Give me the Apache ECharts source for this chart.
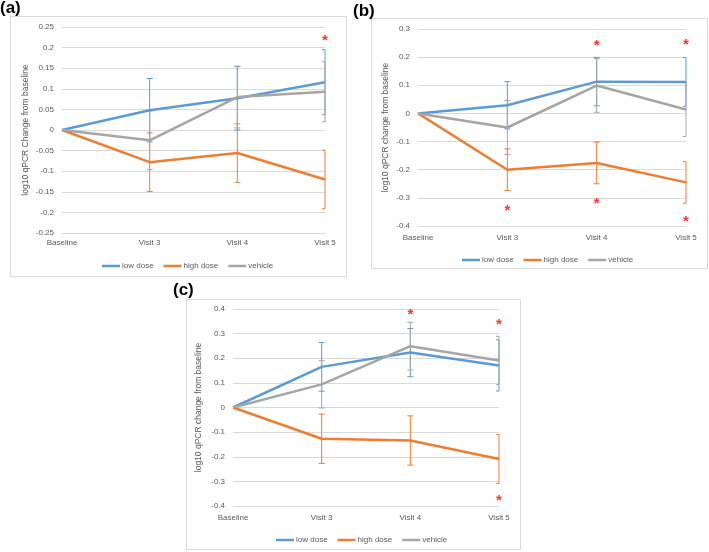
<!DOCTYPE html>
<html>
<head>
<meta charset="utf-8">
<script src="https://cdn.jsdelivr.net/npm/echarts@6/dist/echarts.min.js"></script>
<style>
  body { margin: 0; background: #fff; }
  #chart { width: 709px; height: 552px; }
</style>
</head>
<body>
<div id="chart"></div>
<script>
const categories = ['Baseline', 'Visit 3', 'Visit 4', 'Visit 5']
const seriesNames = ['low dose', 'high dose', 'vehicle']

// panel (a)
const ticksA = [-0.25, -0.2, -0.15, -0.1, -0.05, 0, 0.05, 0.1, 0.15, 0.2, 0.25]
const lowA = [0, 0.048, 0.077, 0.116]
const lowErrA = [0, 0.077, 0.077, 0.079]
const highA = [0, -0.078, -0.056, -0.12]
const highErrA = [0, 0.071, 0.071, 0.071]
const vehA = [0, -0.025, 0.08, 0.093]
const vehErrA = [0, 0.071, 0.075, 0.073]
const starsA = [['Visit 5', 0.225]]

// panel (b)
const ticksB = [-0.4, -0.3, -0.2, -0.1, 0, 0.1, 0.2, 0.3]
const lowB = [0, 0.029, 0.113, 0.112]
const lowErrB = [0, 0.084, 0.086, 0.087]
const highB = [0, -0.2, -0.176, -0.245]
const highErrB = [0, 0.074, 0.074, 0.074]
const vehB = [0, -0.05, 0.099, 0.014]
const vehErrB = [0, 0.096, 0.095, 0.096]
const starsB = [['Visit 3', -0.332], ['Visit 4', 0.255], ['Visit 4', -0.306], ['Visit 5', 0.258], ['Visit 5', -0.37]]

// panel (c)
const ticksC = [-0.4, -0.3, -0.2, -0.1, 0, 0.1, 0.2, 0.3, 0.4]
const lowC = [0, 0.165, 0.223, 0.171]
const lowErrC = [0, 0.099, 0.098, 0.104]
const highC = [0, -0.127, -0.134, -0.209]
const highErrC = [0, 0.1, 0.1, 0.099]
const vehC = [0, 0.094, 0.249, 0.191]
const vehErrC = [0, 0.096, 0.097, 0.098]
const starsC = [['Visit 4', 0.393], ['Visit 5', 0.35], ['Visit 5', -0.362]]

const colors = ['#5b9bd5', '#ed7d31', '#a5a5a5']
const textColor = '#595959'
const font = 'Liberation Sans'

const panels = [
  { grid: { left: 62, top: 27, width: 263, height: 206 }, ticks: ticksA, step: 0.05, name: 'log10 qPCR Change from baseline', nameGap: 32, labelMargin: 6,
    lines: [lowA, highA, vehA], errs: [lowErrA, highErrA, vehErrA], stars: starsA, legend: { left: 97, top: 257 } },
  { grid: { left: 418, top: 29, width: 268, height: 197 }, ticks: ticksB, step: 0.1, name: 'log10 qPCR change from baseline', nameGap: 28, labelMargin: 8,
    lines: [lowB, highB, vehB], errs: [lowErrB, highErrB, vehErrB], stars: starsB, legend: { left: 457, top: 251 } },
  { grid: { left: 233, top: 309, width: 266, height: 197 }, ticks: ticksC, step: 0.1, name: 'log10 qPCR change from baseline', nameGap: 30, labelMargin: 8,
    lines: [lowC, highC, vehC], errs: [lowErrC, highErrC, vehErrC], stars: starsC, legend: { left: 271, top: 531 } },
]

// caps are cut at the plot's right edge, like excel does on the last category
const renderErrorBar = (params, api) => {
  const lo = api.coord([api.value(0), api.value(1)])
  const hi = api.coord([api.value(0), api.value(2)])
  const cap = 3
  const right = Math.min(lo[0] + cap, params.coordSys.x + params.coordSys.width)
  const style = { stroke: api.visual('color'), lineWidth: 1 }
  return {
    type: 'group',
    children: [
      { type: 'line', shape: { x1: lo[0], y1: lo[1], x2: hi[0], y2: hi[1] }, style },
      { type: 'line', shape: { x1: lo[0] - cap, y1: lo[1], x2: right, y2: lo[1] }, style },
      { type: 'line', shape: { x1: hi[0] - cap, y1: hi[1], x2: right, y2: hi[1] }, style },
    ],
  }
}

const grids = []
const xAxes = []
const yAxes = []
const legends = []
const series = []

panels.forEach((p, gi) => {
  grids.push(p.grid)
  xAxes.push({
    type: 'category',
    gridIndex: gi,
    data: categories,
    boundaryGap: false,
    axisLine: { show: false },
    axisTick: { show: false },
    axisLabel: { color: textColor, fontSize: 8, fontFamily: font, margin: p.labelMargin },
  })
  yAxes.push({
    type: 'value',
    gridIndex: gi,
    min: p.ticks[0],
    max: p.ticks[p.ticks.length - 1],
    interval: p.step,
    name: p.name,
    nameLocation: 'middle',
    nameGap: p.nameGap,
    nameTextStyle: { color: textColor, fontSize: 8.5, fontFamily: font },
    axisLine: { show: false },
    axisTick: { show: false },
    axisLabel: { color: textColor, fontSize: 8, fontFamily: font, margin: 8 },
    splitLine: { lineStyle: { color: '#d9d9d9', width: 1 } },
  })
  legends.push({
    data: seriesNames,
    left: p.legend.left,
    top: p.legend.top,
    icon: 'rect',
    itemWidth: 18,
    itemHeight: 2.5,
    itemGap: 10,
    selectedMode: false,
    textStyle: { color: textColor, fontSize: 8, fontFamily: font, padding: [0, 0, 0, -3] },
  })
  p.lines.forEach((vals, si) => {
    series.push({
      type: 'custom',
      xAxisIndex: gi,
      yAxisIndex: gi,
      z: 1,
      itemStyle: { color: colors[si] },
      renderItem: renderErrorBar,
      encode: { x: 0, y: [1, 2] },
      data: vals.map((v, i) => [i, v - p.errs[si][i], v + p.errs[si][i]]).filter((d, i) => p.errs[si][i] > 0),
    })
  })
  p.lines.forEach((vals, si) => {
    series.push({
      name: seriesNames[si],
      type: 'line',
      xAxisIndex: gi,
      yAxisIndex: gi,
      z: 2,
      symbol: 'none',
      color: colors[si],
      lineStyle: { width: 2.5, color: colors[si] },
      data: vals,
    })
  })
  series.push({
    type: 'scatter',
    xAxisIndex: gi,
    yAxisIndex: gi,
    symbolSize: 0,
    z: 3,
    label: {
      show: true,
      formatter: '*',
      position: 'inside',
      offset: [0, 4],
      color: '#ff0000',
      fontSize: 15,
      fontWeight: 'bold',
      fontFamily: font,
    },
    data: p.stars,
  })
})

const frame = (x, y, w, h) => ({
  type: 'rect',
  shape: { x: x, y: y, width: w, height: h },
  style: { fill: 'none', stroke: '#d9d9d9', lineWidth: 1 },
  silent: true,
})
const tag = (text, x, y) => ({
  type: 'text',
  x: x,
  y: y,
  style: { text: text, fill: '#000', font: 'bold 17px "Liberation Sans"' },
})

const chart = echarts.init(document.getElementById('chart'))
chart.setOption({
  animation: false,
  backgroundColor: '#fff',
  grid: grids,
  xAxis: xAxes,
  yAxis: yAxes,
  legend: legends,
  series: series,
  graphic: [
    frame(10.5, 16.5, 336, 260),
    frame(371.5, 18.5, 336, 250),
    frame(186.5, 299.5, 334, 250),
    tag('(a)', 0, 0),
    tag('(b)', 353, 3),
    tag('(c)', 173, 282),
  ],
})
</script>
</body>
</html>
